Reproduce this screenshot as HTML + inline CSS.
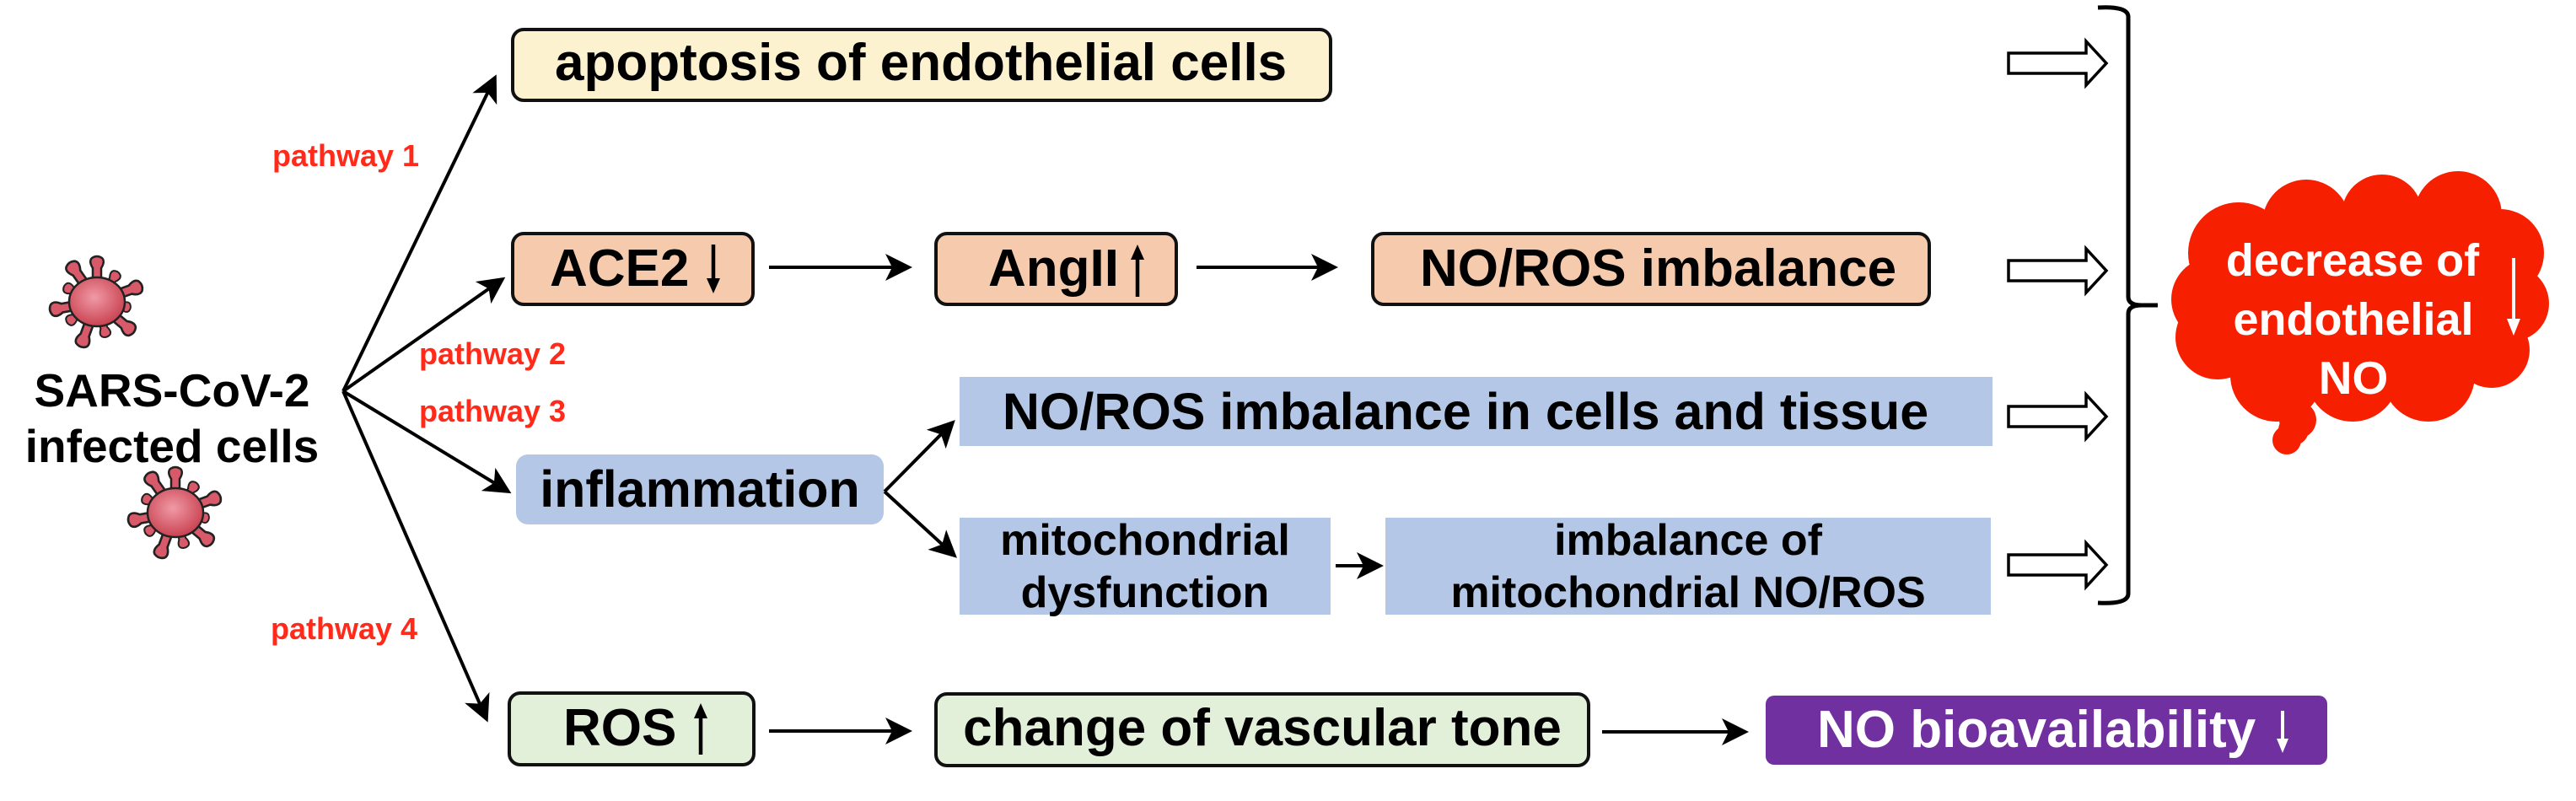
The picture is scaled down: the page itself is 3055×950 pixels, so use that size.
<!DOCTYPE html>
<html><head><meta charset="utf-8"><style>
html,body{margin:0;padding:0;background:#fff;}
svg{display:block;}
text{font-family:"Liberation Sans",Arial,sans-serif;font-weight:bold;}
</style></head><body>
<svg width="3055" height="950" viewBox="0 0 3055 950" xmlns="http://www.w3.org/2000/svg">
<defs>
<marker id="ah" markerWidth="8" markerHeight="8" refX="7" refY="4" orient="auto" markerUnits="strokeWidth">
<path d="M0,0 L8,4 L0,8 L2,4 z" fill="#000"/>
</marker>
<radialGradient id="vg" cx="45%" cy="40%" r="65%">
<stop offset="0" stop-color="#f09aa6"/><stop offset="1" stop-color="#c9404f"/>
</radialGradient>
<g id="spike">
<path d="M-5,-26 L-5,-40 Q-10,-48 -6,-52 Q0,-56 6,-52 Q10,-48 5,-40 L5,-26 z" fill="#d8596a" stroke="#222" stroke-width="2.5"/>
</g>
<g id="virus">
<use href="#spike" transform="rotate(0)"/>
<use href="#spike" transform="rotate(35) scale(0.8)"/>
<use href="#spike" transform="rotate(70) scale(1.05)"/>
<use href="#spike" transform="rotate(100) scale(0.75)"/>
<use href="#spike" transform="rotate(130) scale(1.05)"/>
<use href="#spike" transform="rotate(165) scale(0.8)"/>
<use href="#spike" transform="rotate(200) scale(1.05)"/>
<use href="#spike" transform="rotate(235) scale(0.8)"/>
<use href="#spike" transform="rotate(260) scale(1.05)"/>
<use href="#spike" transform="rotate(295) scale(0.8)"/>
<use href="#spike" transform="rotate(325) scale(1.05)"/>
<ellipse cx="0" cy="0" rx="33" ry="29" fill="url(#vg)" stroke="#222" stroke-width="2.5"/>
<ellipse cx="0" cy="0" rx="31" ry="27" fill="url(#vg)"/>
</g>
<g id="hollow">
<path d="M0,-12 L92,-12 L92,-26 L116,0 L92,26 L92,12 L0,12 z" fill="#fff" stroke="#000" stroke-width="3.5" stroke-linejoin="miter"/>
</g>
</defs>

<use href="#virus" transform="translate(115,358)"/>
<use href="#virus" transform="translate(208,608)"/>

<text x="204" y="482" font-size="55" text-anchor="middle" fill="#000">SARS-CoV-2</text>
<text x="204" y="548" font-size="55" text-anchor="middle" fill="#000">infected cells</text>

<g stroke="#000" stroke-width="4" fill="none" marker-end="url(#ah)">
<line x1="407" y1="464" x2="587" y2="92"/>
<line x1="407" y1="464" x2="596" y2="331"/>
<line x1="407" y1="464" x2="603" y2="583"/>
<line x1="407" y1="464" x2="577" y2="853"/>
</g>
<g fill="#ff2a1a" font-size="36">
<text x="323" y="197">pathway 1</text>
<text x="497" y="432">pathway 2</text>
<text x="497" y="500">pathway 3</text>
<text x="321" y="758">pathway 4</text>
</g>

<rect x="608" y="35" width="970" height="84" rx="13" fill="#fdf2d0" stroke="#111" stroke-width="4"/>
<text x="658" y="95" font-size="62">apoptosis of endothelial cells</text>

<rect x="608" y="277" width="285" height="84" rx="13" fill="#f6cbad" stroke="#111" stroke-width="4"/>
<text x="652" y="339" font-size="62">ACE2</text>
<rect x="1110" y="277" width="285" height="84" rx="13" fill="#f6cbad" stroke="#111" stroke-width="4"/>
<text x="1172" y="339" font-size="62">AngII</text>
<rect x="1628" y="277" width="660" height="84" rx="13" fill="#f6cbad" stroke="#111" stroke-width="4"/>
<text x="1684" y="339" font-size="62">NO/ROS imbalance</text>

<rect x="612" y="539" width="436" height="83" rx="14" fill="#b4c7e7"/>
<text x="830" y="601" font-size="61" text-anchor="middle">inflammation</text>
<rect x="1138" y="447" width="1225" height="82" fill="#b4c7e7"/>
<text x="1738" y="509" font-size="61" text-anchor="middle">NO/ROS imbalance in cells and tissue</text>
<rect x="1138" y="614" width="440" height="115" fill="#b4c7e7"/>
<text x="1358" y="658" font-size="52" text-anchor="middle">mitochondrial</text>
<text x="1358" y="720" font-size="52" text-anchor="middle">dysfunction</text>
<rect x="1643" y="614" width="718" height="115" fill="#b4c7e7"/>
<text x="2002" y="658" font-size="52" text-anchor="middle">imbalance of</text>
<text x="2002" y="720" font-size="52" text-anchor="middle">mitochondrial NO/ROS</text>

<rect x="604" y="822" width="290" height="85" rx="13" fill="#e2efd9" stroke="#111" stroke-width="4"/>
<text x="668" y="884" font-size="62">ROS</text>
<rect x="1110" y="823" width="774" height="85" rx="13" fill="#e2efd9" stroke="#111" stroke-width="4"/>
<text x="1497" y="884" font-size="62" text-anchor="middle">change of vascular tone</text>
<rect x="2094" y="825" width="666" height="82" rx="10" fill="#7030a0"/>
<text x="2155" y="886" font-size="62" fill="#fff">NO bioavailability</text>

<g stroke="#000" stroke-width="4.5">
<line x1="846" y1="290" x2="846" y2="335"/>
<line x1="831" y1="843" x2="831" y2="895"/>
<line x1="1349" y1="305" x2="1349" y2="352"/>
</g>
<path d="M838,330 L854,330 L846,348 z" fill="#000"/>
<path d="M1341,308 L1357,308 L1349,290 z" fill="#000"/>
<path d="M823,852 L839,852 L831,834 z" fill="#000"/>
<g stroke="#fff" stroke-width="4"><line x1="2707" y1="843" x2="2707" y2="880"/></g>
<path d="M2700,876 L2714,876 L2707,893 z" fill="#fff"/>

<g stroke="#000" stroke-width="4" fill="none" marker-end="url(#ah)">
<line x1="912" y1="317" x2="1078" y2="317"/>
<line x1="1419" y1="317" x2="1583" y2="317"/>
<line x1="1049" y1="583" x2="1130" y2="501"/>
<line x1="1049" y1="583" x2="1132" y2="659"/>
<line x1="1584" y1="671" x2="1637" y2="671"/>
<line x1="912" y1="867" x2="1078" y2="867"/>
<line x1="1900" y1="868" x2="2070" y2="868"/>
</g>

<use href="#hollow" transform="translate(2382,75)"/>
<use href="#hollow" transform="translate(2382,321)"/>
<use href="#hollow" transform="translate(2382,494)"/>
<use href="#hollow" transform="translate(2382,670)"/>

<path d="M2488,9 Q2524,7 2524,20 L2524,352 Q2524,362 2540,362 L2559,362 M2540,362 Q2524,362 2524,372 L2524,704 Q2524,717 2488,715" fill="none" stroke="#000" stroke-width="5"/>

<g fill="#f61f00">
<ellipse cx="2795" cy="362" rx="195" ry="115"/>
<circle cx="2655" cy="300" r="60"/>
<circle cx="2735" cy="265" r="52"/>
<circle cx="2825" cy="255" r="48"/>
<circle cx="2915" cy="255" r="52"/>
<circle cx="2965" cy="300" r="52"/>
<circle cx="2978" cy="360" r="45"/>
<circle cx="2955" cy="415" r="45"/>
<circle cx="2880" cy="445" r="55"/>
<circle cx="2790" cy="445" r="55"/>
<circle cx="2700" cy="445" r="55"/>
<circle cx="2630" cy="400" r="50"/>
<circle cx="2625" cy="355" r="50"/>
<circle cx="2725" cy="498" r="22"/>
<circle cx="2712" cy="522" r="17"/>
<circle cx="2720" cy="510" r="18"/>
</g>
<g fill="#fff">
<text x="2790" y="327" font-size="54" text-anchor="middle">decrease of</text>
<text x="2791" y="397" font-size="54" text-anchor="middle">endothelial</text>
<text x="2791" y="467" font-size="55" text-anchor="middle">NO</text>
</g>
<g stroke="#fff" stroke-width="4"><line x1="2981" y1="306" x2="2981" y2="382"/></g>
<path d="M2973,378 L2989,378 L2981,398 z" fill="#fff"/>
</svg>
</body></html>
